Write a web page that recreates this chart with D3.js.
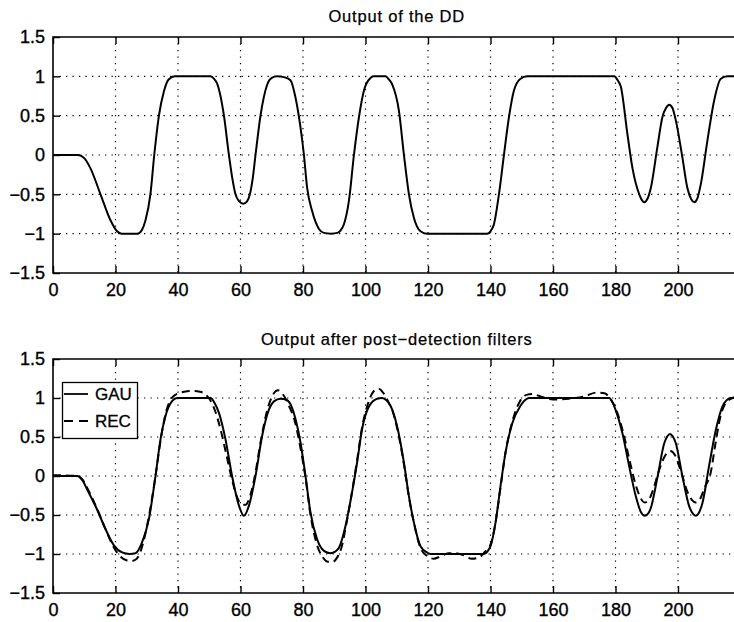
<!DOCTYPE html>
<html>
<head>
<meta charset="utf-8">
<script src="https://cdn.jsdelivr.net/npm/d3@7"></script>
<style>
  html, body { margin: 0; padding: 0; background: #fff; }
  svg { display: block; }
  text { font-family: "Liberation Sans", Arial, Helvetica, sans-serif; fill: #000; }
</style>
</head>
<body>
<svg id="chart" width="734" height="622"></svg>
<script>
// ---------- data ----------
const titles = ["Output of the DD", "Output after post\u2212detection filters"];
const xTicks = [0, 20, 40, 60, 80, 100, 120, 140, 160, 180, 200];
const yTicks = [-1.5, -1, -0.5, 0, 0.5, 1, 1.5];
const yTickLabels = ["\u22121.5", "\u22121", "\u22120.5", "0", "0.5", "1", "1.5"];
const seriesNames = ["GAU", "REC"];

// Output of the DD
const ddX = [0, 8, 10, 12, 15.2, 18.4, 20.5, 22, 24.5, 27, 28.5, 29.6, 31.2, 32.4, 33.9, 35.5, 37, 39, 45, 50.4, 51.5, 52.5, 54.7, 56.3, 57.4, 58.4, 59.6, 60.9, 62.1, 63, 63.9, 64.8, 66.4, 68.5, 70, 71.7, 73.9, 76, 77.6, 79.2, 80.3, 81.3, 82.9, 85.1, 86.7, 89, 91, 92, 93.1, 94.7, 96.3, 97.9, 99.5, 101.6, 102.7, 104.5, 106.4, 107.5, 108.5, 110.7, 112.3, 113.9, 115.5, 117.6, 119.7, 130, 138.9, 140, 141.1, 142.7, 144.3, 145.9, 147.5, 149.6, 151.7, 165, 179.6, 180.7, 181.7, 183.8, 185.4, 187.6, 188.4, 189.2, 190.2, 191.3, 193.4, 195, 196.2, 197.2, 198.2, 199.3, 201.4, 203, 204.2, 205.2, 206.2, 207.3, 209.4, 211.6, 213.7, 215.8, 218];
const ddY = [0, 0, -0.04, -0.17, -0.5, -0.83, -0.97, -1, -1, -1, -0.95, -0.83, -0.49, 0, 0.5, 0.81, 0.96, 1, 1, 1, 0.97, 0.91, 0.5, 0, -0.3, -0.5, -0.59, -0.62, -0.59, -0.5, -0.3, 0, 0.5, 0.89, 0.98, 1, 0.99, 0.95, 0.73, 0.35, 0, -0.41, -0.71, -0.94, -0.99, -1, -0.99, -0.96, -0.88, -0.58, 0, 0.48, 0.82, 0.98, 1, 1, 1, 0.96, 0.9, 0.56, 0, -0.5, -0.8, -0.97, -1, -1, -1, -0.97, -0.88, -0.5, 0, 0.48, 0.82, 0.97, 1, 1, 1, 0.95, 0.87, 0.27, -0.16, -0.5, -0.57, -0.6, -0.56, -0.42, 0.1, 0.48, 0.6, 0.64, 0.6, 0.44, -0.03, -0.42, -0.56, -0.6, -0.55, -0.37, 0.18, 0.7, 0.97, 1, 1];

// Output after post-detection filters: GAU
const gauX = [0, 7.7, 9.5, 10.9, 14.1, 16.8, 19.5, 22.1, 24.5, 26.4, 28.5, 30.7, 32.8, 34.4, 36, 38.1, 39.7, 45, 50.4, 51.8, 53.1, 55.2, 57.3, 59.5, 61.1, 62.7, 64.8, 66.9, 69.1, 70.8, 72.8, 74.5, 76, 77.6, 79.2, 80.8, 82.4, 84.5, 86.7, 88.8, 90.3, 91.5, 93.6, 95.7, 97.3, 98.9, 101.1, 103.7, 105.3, 106.7, 108, 110.1, 112.3, 113.9, 115.5, 117.6, 119.7, 120.8, 130, 137.9, 139, 140, 141.6, 143.2, 144.8, 147, 149.6, 151, 152.3, 165, 178, 179.1, 180.1, 182.2, 184.4, 186.5, 188.1, 189.4, 190.5, 191.3, 193.5, 195.6, 196.6, 197.4, 198.3, 199.3, 201.4, 203.6, 204.7, 205.7, 206.7, 207.8, 209.9, 212.1, 214.2, 215.5, 216.9, 218];
const gauY = [0, 0, -0.06, -0.17, -0.43, -0.68, -0.89, -0.98, -1, -0.99, -0.85, -0.55, 0, 0.47, 0.77, 0.96, 1, 1, 1, 0.93, 0.81, 0.47, 0, -0.38, -0.51, -0.38, 0, 0.51, 0.85, 0.96, 0.99, 0.98, 0.92, 0.73, 0.43, 0, -0.47, -0.81, -0.96, -0.99, -0.97, -0.92, -0.64, -0.21, 0.17, 0.6, 0.89, 0.99, 1, 0.97, 0.9, 0.64, 0.17, -0.26, -0.6, -0.9, -0.98, -1, -1, -1, -0.97, -0.9, -0.6, -0.13, 0.3, 0.68, 0.9, 0.97, 1, 1, 1, 0.94, 0.84, 0.55, 0.12, -0.26, -0.46, -0.51, -0.48, -0.41, 0, 0.42, 0.51, 0.54, 0.51, 0.42, 0, -0.39, -0.48, -0.51, -0.47, -0.35, 0.12, 0.59, 0.89, 0.97, 1, 1];

// Output after post-detection filters: REC
const recX = [0, 7.7, 9.5, 10.9, 14.1, 16.8, 19.5, 21.5, 23.5, 25, 26.5, 28, 29.5, 31, 32.8, 34.6, 36.3, 38, 40, 42, 44.5, 47, 49, 50.5, 52, 53.6, 55.5, 57.3, 59, 60.3, 61.6, 62.7, 64.5, 66.5, 68.6, 70.5, 72, 73.5, 75.5, 77.4, 79, 80.8, 82.4, 84.3, 86.3, 88, 89.5, 91, 92.3, 93.8, 95.7, 97.3, 98.9, 100.8, 102.5, 104.2, 105.8, 107.3, 108.6, 110.2, 112.3, 113.9, 115.5, 117.4, 119.5, 121.8, 124, 126.5, 128.7, 131, 134, 136.5, 138.5, 140, 141.6, 143.2, 144.8, 147, 149.3, 151.5, 153.5, 156, 160, 165, 170, 174, 176.5, 178.5, 180.5, 182.5, 184.5, 186.5, 188, 189.3, 190.6, 192, 194, 196, 197.5, 199, 201, 203, 204.5, 205.7, 207, 208.5, 210.5, 212, 213.5, 215, 216.5, 218];
const recY = [0.01, 0, -0.05, -0.15, -0.42, -0.68, -0.92, -1.03, -1.08, -1.09, -1.07, -0.97, -0.75, -0.45, 0, 0.5, 0.84, 1, 1.06, 1.08, 1.09, 1.08, 1.04, 0.96, 0.82, 0.6, 0.27, -0.05, -0.28, -0.36, -0.37, -0.3, -0.02, 0.45, 0.85, 1.05, 1.1, 1.05, 0.9, 0.7, 0.4, -0.02, -0.5, -0.86, -1.04, -1.1, -1.1, -1.04, -0.92, -0.63, -0.2, 0.2, 0.62, 0.93, 1.08, 1.12, 1.06, 0.95, 0.84, 0.6, 0.15, -0.27, -0.6, -0.9, -1.02, -1.06, -1.03, -0.99, -0.99, -1.01, -1.06, -1.04, -0.96, -0.88, -0.6, -0.15, 0.3, 0.7, 0.95, 1.04, 1.05, 1.02, 0.98, 0.99, 1.02, 1.07, 1.06, 0.98, 0.82, 0.55, 0.2, -0.12, -0.28, -0.34, -0.31, -0.18, 0.08, 0.27, 0.32, 0.27, 0.05, -0.2, -0.31, -0.34, -0.3, -0.15, 0.05, 0.42, 0.75, 0.92, 0.98, 1.01];

// ---------- layout ----------
const svg = d3.select("#chart");
svg.append("rect").attr("width", 734).attr("height", 622).attr("fill", "#fff");

const left = 53, right = 53 + 220 * 3.125;
const panels = [
  { top: 37, bottom: 273, title: titles[0], titleY: 22, lines: [{ x: ddX, y: ddY, dash: null }] },
  { top: 359, bottom: 593, title: titles[1], titleY: 345,
    lines: [{ x: gauX, y: gauY, dash: null }, { x: recX, y: recY, dash: "8,5" }], legend: true }
];

const x = d3.scaleLinear().domain([0, 220]).range([left, right]);

function styleLabels(a) {
  a.selectAll("text").attr("font-size", 18)
    .attr("font-family", "Liberation Sans, Arial, sans-serif")
    .attr("stroke", "#000").attr("stroke-width", 0.35);
}

panels.forEach((p, i) => {
  const y = d3.scaleLinear().domain([-1.5, 1.5]).range([p.bottom, p.top]);
  const g = svg.append("g");

  const clipId = "clip" + i;
  svg.append("clipPath").attr("id", clipId).append("rect")
    .attr("x", left).attr("y", p.top).attr("width", right - left).attr("height", p.bottom - p.top);

  // grid
  const grid = g.append("g").attr("stroke", "#000").attr("stroke-width", 1.2)
    .attr("stroke-dasharray", "1.3,5.2").attr("fill", "none");
  xTicks.filter(v => v > 0).forEach(v => {
    grid.append("line").attr("x1", x(v)).attr("x2", x(v)).attr("y1", p.top).attr("y2", p.bottom);
  });
  yTicks.filter(v => v > -1.5 && v < 1.5).forEach(v => {
    grid.append("line").attr("x1", left).attr("x2", right).attr("y1", y(v)).attr("y2", y(v));
  });

  // axes (ticks inward)
  const tickLen = 7;
  g.append("g").attr("transform", `translate(0,${p.bottom})`)
    .call(d3.axisBottom(x).tickValues(xTicks).tickSize(-tickLen).tickPadding(10).tickFormat(d3.format("d")))
    .call(a => { a.select(".domain").remove(); a.selectAll("line").attr("stroke", "#000").attr("stroke-width", 1.4); styleLabels(a); });
  g.append("g").attr("transform", `translate(0,${p.top})`)
    .call(d3.axisTop(x).tickValues(xTicks).tickSize(-tickLen).tickFormat(""))
    .call(a => { a.select(".domain").remove(); a.selectAll("line").attr("stroke", "#000").attr("stroke-width", 1.4); });
  g.append("g").attr("transform", `translate(${left},0)`)
    .call(d3.axisLeft(y).tickValues(yTicks).tickSize(-tickLen).tickPadding(8).tickFormat((d, k) => yTickLabels[k]))
    .call(a => { a.select(".domain").remove(); a.selectAll("line").attr("stroke", "#000").attr("stroke-width", 1.4); styleLabels(a); });

  // border (left, bottom, top; right edge falls outside the window)
  g.append("path")
    .attr("d", `M${right},${p.top}H${left}V${p.bottom}H${right}`)
    .attr("fill", "none").attr("stroke", "#000").attr("stroke-width", 1.6);

  // lines
  const lineGen = d3.line().curve(d3.curveMonotoneX);
  p.lines.forEach(s => {
    const pts = s.x.map((v, k) => [x(v), y(s.y[k])]);
    g.append("path").attr("clip-path", `url(#${clipId})`)
      .attr("d", lineGen(pts)).attr("fill", "none").attr("stroke", "#000")
      .attr("stroke-width", 2).attr("stroke-linejoin", "round")
      .attr("stroke-dasharray", s.dash);
  });

  // title
  svg.append("text").attr("x", (left + right) / 2).attr("y", p.titleY)
    .attr("text-anchor", "middle").attr("font-size", 16.5).attr("letter-spacing", "0.8px")
    .attr("stroke", "#000").attr("stroke-width", 0.25)
    .text(p.title);

  // legend
  if (p.legend) {
    const lg = svg.append("g");
    lg.append("rect").attr("x", 62.5).attr("y", 382.5).attr("width", 75).attr("height", 56)
      .attr("fill", "#fff").attr("stroke", "#000").attr("stroke-width", 1.3);
    const rows = [{ yy: 394, dash: null }, { yy: 421, dash: "9,6" }];
    rows.forEach((r, k) => {
      lg.append("line").attr("x1", 64).attr("x2", 88).attr("y1", r.yy).attr("y2", r.yy)
        .attr("stroke", "#000").attr("stroke-width", 1.8).attr("stroke-dasharray", r.dash);
      lg.append("text").attr("x", 95).attr("y", r.yy + 6).attr("font-size", 17)
        .attr("stroke", "#000").attr("stroke-width", 0.3).text(seriesNames[k]);
    });
  }
});
</script>
</body>
</html>
